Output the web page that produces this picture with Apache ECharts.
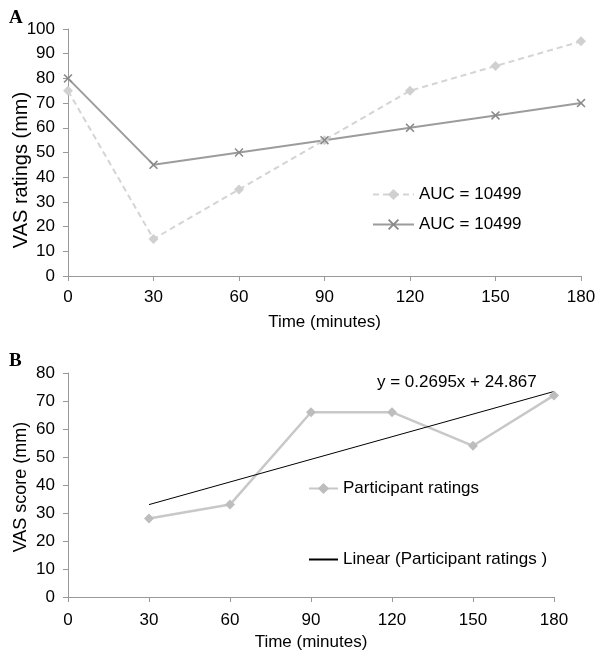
<!DOCTYPE html>
<html>
<head>
<meta charset="utf-8">
<script src="https://cdn.jsdelivr.net/npm/echarts@6/dist/echarts.min.js"></script>
<style>html,body{margin:0;padding:0;background:#fff}#c{width:600px;height:654px}</style>
</head>
<body>
<div id="c"></div>
<script>
var timesA = [0, 30, 60, 90, 120, 150, 180];
var seriesA1 = [75, 15, 35, 55, 75, 85, 95];
var seriesA2 = [80, 45, 50, 55, 60, 65, 70];
var timesB = [30, 60, 90, 120, 150, 180];
var seriesB = [28, 33, 66, 66, 54, 72];
var trendX = [30, 180];
var trendY = [33, 73.4];
var nameA1 = 'AUC = 10499';
var nameA2 = 'AUC = 10499 ';
var nameB = 'Participant ratings';
var nameT = 'Linear (Participant ratings )';
var eqText = 'y = 0.2695x + 24.867';
var yTitleA = 'VAS ratings (mm)';
var yTitleB = 'VAS score (mm)';
var xTitle = 'Time (minutes)';

function pairs(xs, ys) { return xs.map(function (x, i) { return [x, ys[i]]; }); }

var font = 'Liberation Sans, Arial, Helvetica, sans-serif';
var xMark = 'path://M0,1.2 L1.2,0 L5,3.8 L8.8,0 L10,1.2 L6.2,5 L10,8.8 L8.8,10 L5,6.2 L1.2,10 L0,8.8 L3.8,5 Z';

function xAx(idx, gap, margin) {
  return {
    gridIndex: idx, type: 'value', min: 0, max: 180, interval: 30,
    name: xTitle, nameLocation: 'middle', nameGap: gap,
    nameTextStyle: { fontFamily: font, fontSize: 17, color: '#000' },
    axisLine: { lineStyle: { color: '#999', width: 1 } },
    axisTick: { show: true, length: 5, lineStyle: { color: '#999' } },
    axisLabel: { fontFamily: font, fontSize: 17, color: '#000', margin: margin },
    splitLine: { show: false }
  };
}
function yAx(idx, max) {
  return {
    gridIndex: idx, type: 'value', min: 0, max: max, interval: 10,
    axisLine: { show: true, lineStyle: { color: '#999', width: 1 } },
    axisTick: { show: true, length: 5, lineStyle: { color: '#999' } },
    axisLabel: { fontFamily: font, fontSize: 17, color: '#000', margin: 13 },
    splitLine: { show: false }
  };
}

var option = {
  animation: false,
  backgroundColor: '#fff',
  title: [
    { text: 'A', left: 4, top: 4, textStyle: { fontFamily: 'Liberation Serif, Times New Roman, serif', fontWeight: 'bold', fontSize: 19, color: '#000' } },
    { text: 'B', left: 4, top: 347, textStyle: { fontFamily: 'Liberation Serif, Times New Roman, serif', fontWeight: 'bold', fontSize: 19, color: '#000' } },
    { text: eqText, left: 372, top: 369, textStyle: { fontFamily: font, fontWeight: 'normal', fontSize: 17, color: '#000' } }
  ],
  graphic: [
    { type: 'text', x: 21, y: 170, rotation: Math.PI / 2,
      style: { text: yTitleA, font: '20px ' + font, fill: '#000', align: 'center', verticalAlign: 'middle' } },
    { type: 'text', x: 21, y: 487, rotation: Math.PI / 2,
      style: { text: yTitleB, font: '18px ' + font, fill: '#000', align: 'center', verticalAlign: 'middle' } }
  ],
  grid: [
    { left: 68, right: 19, top: 29, height: 247, containLabel: false, outerBoundsMode: 'none' },
    { left: 68, right: 46, top: 373, height: 224, containLabel: false, outerBoundsMode: 'none' }
  ],
  xAxis: [xAx(0, 38, 13), xAx(1, 37, 15)],
  yAxis: [yAx(0, 100), yAx(1, 80)],
  legend: [
    {
      data: [nameA1, nameA2], orient: 'vertical', left: 367, top: 181, itemGap: 13,
      itemWidth: 41, itemHeight: 14,
      textStyle: { fontFamily: font, fontSize: 17, color: '#000' },
      formatter: function (n) { return n.trim(); }
    },
    {
      data: [nameB, nameT], orient: 'vertical', left: 303, top: 475, itemGap: 54,
      itemWidth: 29, itemHeight: 14,
      textStyle: { fontFamily: font, fontSize: 17, color: '#000' }
    }
  ],
  series: [
    {
      name: nameA1, type: 'line', xAxisIndex: 0, yAxisIndex: 0,
      data: pairs(timesA, seriesA1),
      symbol: 'diamond', symbolSize: 10,
      lineStyle: { color: '#d4d4d4', width: 2, type: [6, 4] },
      itemStyle: { color: '#d0d0d0' }
    },
    {
      name: nameA2, type: 'line', xAxisIndex: 0, yAxisIndex: 0,
      data: pairs(timesA, seriesA2),
      symbol: xMark, symbolSize: 9,
      lineStyle: { color: '#9c9c9c', width: 2 },
      itemStyle: { color: '#8a8a8a' }
    },
    {
      name: nameB, type: 'line', xAxisIndex: 1, yAxisIndex: 1,
      data: pairs(timesB, seriesB),
      symbol: 'diamond', symbolSize: 10,
      lineStyle: { color: '#c8c8c8', width: 2.5 },
      itemStyle: { color: '#bdbdbd' }
    },
    {
      name: nameT, type: 'line', xAxisIndex: 1, yAxisIndex: 1,
      data: pairs(trendX, trendY),
      symbol: 'none', showSymbol: false,
      lineStyle: { color: '#000', width: 1 },
      itemStyle: { color: 'rgba(0,0,0,0)' }
    }
  ]
};
var chart = echarts.init(document.getElementById('c'), null, { renderer: 'canvas' });
chart.setOption(option);
</script>
</body>
</html>
